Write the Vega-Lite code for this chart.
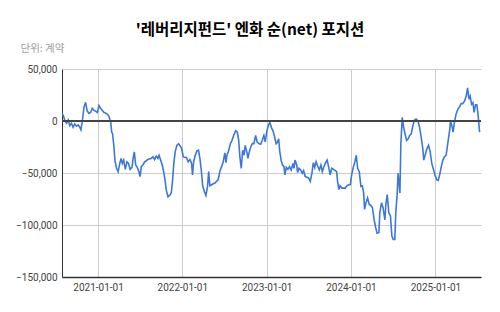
{
  "$schema": "https://vega.github.io/schema/vega-lite/v6.json",
  "width": 419,
  "height": 208,
  "autosize": {"type": "none"},
  "padding": {"left": 62, "top": 69, "right": 19, "bottom": 35},
  "background": "#ffffff",
  "title": {
    "text": "'레버리지펀드' 엔화 순(net) 포지션",
    "font": "Noto Sans CJK KR",
    "fontSize": 15.5,
    "fontWeight": "bold",
    "color": "#000000",
    "anchor": "middle",
    "frame": "group",
    "dx": -21.5,
    "baseline": "alphabetic",
    "offset": -7
  },
  "config": {
    "view": {"stroke": null},
    "axis": {
      "labelFont": "Roboto",
      "labelFontSize": 10,
      "labelColor": "#444444",
      "gridColor": "#cccccc",
      "gridWidth": 1,
      "tickSize": 0,
      "domainColor": "#333333"
    }
  },
  "data": {
    "values": [
      {"d": "2020-07-29", "v": 7300}, {"d": "2020-08-04", "v": 5000}, {"d": "2020-08-11", "v": 0}, {"d": "2020-08-18", "v": -2200},
      {"d": "2020-08-25", "v": 1000}, {"d": "2020-09-01", "v": -4400}, {"d": "2020-09-08", "v": -2200}, {"d": "2020-09-15", "v": -6000},
      {"d": "2020-09-22", "v": -2800}, {"d": "2020-09-30", "v": -5000}, {"d": "2020-10-07", "v": -3800}, {"d": "2020-10-14", "v": -6000},
      {"d": "2020-10-19", "v": -8500}, {"d": "2020-10-25", "v": 0}, {"d": "2020-11-01", "v": 13000}, {"d": "2020-11-08", "v": 18000},
      {"d": "2020-11-15", "v": 9800}, {"d": "2020-11-23", "v": 7300}, {"d": "2020-11-30", "v": 8200}, {"d": "2020-12-07", "v": 12300},
      {"d": "2020-12-14", "v": 10400}, {"d": "2020-12-22", "v": 9200}, {"d": "2020-12-29", "v": 8200}, {"d": "2021-01-05", "v": 14900},
      {"d": "2021-01-12", "v": 12300}, {"d": "2021-01-19", "v": 10400}, {"d": "2021-01-27", "v": 8200}, {"d": "2021-02-03", "v": 7600},
      {"d": "2021-02-10", "v": 6600}, {"d": "2021-02-17", "v": 4700}, {"d": "2021-02-25", "v": -1300}, {"d": "2021-03-01", "v": -10700},
      {"d": "2021-03-05", "v": -12300}, {"d": "2021-03-11", "v": -25000}, {"d": "2021-03-15", "v": -37600}, {"d": "2021-03-22", "v": -45500},
      {"d": "2021-03-29", "v": -48700}, {"d": "2021-04-05", "v": -40800}, {"d": "2021-04-11", "v": -36000}, {"d": "2021-04-16", "v": -40800},
      {"d": "2021-04-22", "v": -37600}, {"d": "2021-04-29", "v": -46500}, {"d": "2021-05-06", "v": -39200}, {"d": "2021-05-13", "v": -40800},
      {"d": "2021-05-20", "v": -46500}, {"d": "2021-05-28", "v": -44600}, {"d": "2021-06-02", "v": -36000}, {"d": "2021-06-07", "v": -29700},
      {"d": "2021-06-13", "v": -42300}, {"d": "2021-06-20", "v": -44600}, {"d": "2021-06-27", "v": -48700}, {"d": "2021-07-02", "v": -53400},
      {"d": "2021-07-07", "v": -43900}, {"d": "2021-07-14", "v": -42300}, {"d": "2021-07-22", "v": -39200}, {"d": "2021-07-29", "v": -38200},
      {"d": "2021-08-05", "v": -37000}, {"d": "2021-08-12", "v": -36300}, {"d": "2021-08-19", "v": -36000}, {"d": "2021-08-27", "v": -34400},
      {"d": "2021-09-03", "v": -37000}, {"d": "2021-09-10", "v": -33800}, {"d": "2021-09-17", "v": -36000}, {"d": "2021-09-22", "v": -32900},
      {"d": "2021-09-29", "v": -37600}, {"d": "2021-10-06", "v": -42300}, {"d": "2021-10-12", "v": -48700}, {"d": "2021-10-18", "v": -56600},
      {"d": "2021-10-23", "v": -66000}, {"d": "2021-10-31", "v": -73000}, {"d": "2021-11-07", "v": -71700}, {"d": "2021-11-14", "v": -69200},
      {"d": "2021-11-20", "v": -56600}, {"d": "2021-11-25", "v": -40800}, {"d": "2021-12-01", "v": -29700}, {"d": "2021-12-08", "v": -23400},
      {"d": "2021-12-16", "v": -21800}, {"d": "2021-12-21", "v": -23400}, {"d": "2021-12-29", "v": -26500}, {"d": "2022-01-05", "v": -34400},
      {"d": "2022-01-12", "v": -35100}, {"d": "2022-01-19", "v": -35100}, {"d": "2022-01-26", "v": -39200}, {"d": "2022-02-03", "v": -37000},
      {"d": "2022-02-10", "v": -40800}, {"d": "2022-02-14", "v": -51800}, {"d": "2022-02-19", "v": -39200}, {"d": "2022-02-26", "v": -32900},
      {"d": "2022-03-05", "v": -28800}, {"d": "2022-03-12", "v": -28100}, {"d": "2022-03-18", "v": -36000}, {"d": "2022-03-24", "v": -47100},
      {"d": "2022-03-30", "v": -62300}, {"d": "2022-04-06", "v": -67600}, {"d": "2022-04-13", "v": -71700}, {"d": "2022-04-20", "v": -62900},
      {"d": "2022-04-25", "v": -48700}, {"d": "2022-04-30", "v": -62300}, {"d": "2022-05-08", "v": -61300}, {"d": "2022-05-15", "v": -60400},
      {"d": "2022-05-22", "v": -59700}, {"d": "2022-05-29", "v": -58100}, {"d": "2022-06-05", "v": -56600}, {"d": "2022-06-13", "v": -47700},
      {"d": "2022-06-20", "v": -43900}, {"d": "2022-06-27", "v": -39200}, {"d": "2022-07-04", "v": -30700}, {"d": "2022-07-09", "v": -40100},
      {"d": "2022-07-13", "v": -32900}, {"d": "2022-07-21", "v": -28100}, {"d": "2022-07-28", "v": -21800}, {"d": "2022-08-04", "v": -18600},
      {"d": "2022-08-11", "v": -13900}, {"d": "2022-08-20", "v": -9200}, {"d": "2022-08-27", "v": -10700}, {"d": "2022-09-02", "v": -18600},
      {"d": "2022-09-07", "v": -34400}, {"d": "2022-09-13", "v": -45500}, {"d": "2022-09-19", "v": -28100}, {"d": "2022-09-25", "v": -32900},
      {"d": "2022-09-30", "v": -23400}, {"d": "2022-10-07", "v": -29700}, {"d": "2022-10-12", "v": -36000}, {"d": "2022-10-18", "v": -29700},
      {"d": "2022-10-24", "v": -25000}, {"d": "2022-10-31", "v": -21800}, {"d": "2022-11-07", "v": -21800}, {"d": "2022-11-14", "v": -13900},
      {"d": "2022-11-21", "v": -20200}, {"d": "2022-11-28", "v": -21800}, {"d": "2022-12-06", "v": -22400}, {"d": "2022-12-13", "v": -18600},
      {"d": "2022-12-20", "v": -13900}, {"d": "2022-12-26", "v": -20200}, {"d": "2023-01-01", "v": -10700}, {"d": "2023-01-08", "v": -4400},
      {"d": "2023-01-15", "v": -1300}, {"d": "2023-01-21", "v": -6000}, {"d": "2023-01-28", "v": -9200}, {"d": "2023-02-04", "v": -14900},
      {"d": "2023-02-11", "v": -21800}, {"d": "2023-02-17", "v": -20200}, {"d": "2023-02-22", "v": -17100}, {"d": "2023-02-27", "v": -29700},
      {"d": "2023-03-05", "v": -38200}, {"d": "2023-03-11", "v": -42300}, {"d": "2023-03-17", "v": -43900}, {"d": "2023-03-21", "v": -51800},
      {"d": "2023-03-27", "v": -44600}, {"d": "2023-04-03", "v": -46500}, {"d": "2023-04-10", "v": -43900}, {"d": "2023-04-17", "v": -47100},
      {"d": "2023-04-25", "v": -40800}, {"d": "2023-04-29", "v": -45500}, {"d": "2023-05-04", "v": -37600}, {"d": "2023-05-11", "v": -42300},
      {"d": "2023-05-15", "v": -49600}, {"d": "2023-05-21", "v": -45500}, {"d": "2023-05-28", "v": -47100}, {"d": "2023-06-04", "v": -50200},
      {"d": "2023-06-10", "v": -47700}, {"d": "2023-06-17", "v": -53400}, {"d": "2023-06-24", "v": -54000}, {"d": "2023-07-02", "v": -55000},
      {"d": "2023-07-09", "v": -58100}, {"d": "2023-07-16", "v": -50200}, {"d": "2023-07-22", "v": -40100}, {"d": "2023-07-28", "v": -44600},
      {"d": "2023-08-03", "v": -39200}, {"d": "2023-08-10", "v": -43300}, {"d": "2023-08-17", "v": -47100}, {"d": "2023-08-24", "v": -42300},
      {"d": "2023-08-30", "v": -48700}, {"d": "2023-09-06", "v": -43900}, {"d": "2023-09-13", "v": -40100}, {"d": "2023-09-20", "v": -37600},
      {"d": "2023-09-26", "v": -43900}, {"d": "2023-10-03", "v": -51800}, {"d": "2023-10-10", "v": -45500}, {"d": "2023-10-18", "v": -46500},
      {"d": "2023-10-25", "v": -47700}, {"d": "2023-10-31", "v": -48700}, {"d": "2023-11-04", "v": -58100}, {"d": "2023-11-10", "v": -66000},
      {"d": "2023-11-15", "v": -62300}, {"d": "2023-11-23", "v": -64500}, {"d": "2023-11-30", "v": -64500}, {"d": "2023-12-07", "v": -64500},
      {"d": "2023-12-14", "v": -62300}, {"d": "2023-12-22", "v": -61300}, {"d": "2023-12-29", "v": -61300}, {"d": "2024-01-04", "v": -51800},
      {"d": "2024-01-11", "v": -44600}, {"d": "2024-01-18", "v": -39200}, {"d": "2024-01-24", "v": -32900}, {"d": "2024-01-30", "v": -45500},
      {"d": "2024-02-06", "v": -48700}, {"d": "2024-02-13", "v": -62900}, {"d": "2024-02-19", "v": -62300}, {"d": "2024-02-25", "v": -69200},
      {"d": "2024-02-29", "v": -85000}, {"d": "2024-03-06", "v": -78700}, {"d": "2024-03-13", "v": -73900}, {"d": "2024-03-20", "v": -80300},
      {"d": "2024-03-27", "v": -81200}, {"d": "2024-04-03", "v": -83400}, {"d": "2024-04-10", "v": -94500}, {"d": "2024-04-17", "v": -102400},
      {"d": "2024-04-23", "v": -107800}, {"d": "2024-05-01", "v": -107100}, {"d": "2024-05-05", "v": -88200}, {"d": "2024-05-12", "v": -78700},
      {"d": "2024-05-19", "v": -83400}, {"d": "2024-05-27", "v": -95100}, {"d": "2024-05-31", "v": -80300}, {"d": "2024-06-06", "v": -70800},
      {"d": "2024-06-13", "v": -88200}, {"d": "2024-06-20", "v": -91300}, {"d": "2024-06-26", "v": -110300}, {"d": "2024-07-02", "v": -114000},
      {"d": "2024-07-09", "v": -114000}, {"d": "2024-07-13", "v": -88200}, {"d": "2024-07-19", "v": -70800}, {"d": "2024-07-23", "v": -50200},
      {"d": "2024-07-31", "v": -69200}, {"d": "2024-08-04", "v": -21800}, {"d": "2024-08-10", "v": 3500}, {"d": "2024-08-16", "v": -6000},
      {"d": "2024-08-22", "v": -12300}, {"d": "2024-08-29", "v": -18600}, {"d": "2024-09-05", "v": -17100}, {"d": "2024-09-11", "v": -13900},
      {"d": "2024-09-18", "v": -12300}, {"d": "2024-09-25", "v": -4400}, {"d": "2024-10-02", "v": 900}, {"d": "2024-10-09", "v": 1900},
      {"d": "2024-10-17", "v": 0}, {"d": "2024-10-24", "v": -6000}, {"d": "2024-10-31", "v": -15500}, {"d": "2024-11-07", "v": -26500},
      {"d": "2024-11-11", "v": -37600}, {"d": "2024-11-17", "v": -32900}, {"d": "2024-11-25", "v": -26500}, {"d": "2024-12-02", "v": -23400},
      {"d": "2024-12-09", "v": -29700}, {"d": "2024-12-16", "v": -40800}, {"d": "2024-12-24", "v": -47100}, {"d": "2024-12-31", "v": -52800},
      {"d": "2025-01-07", "v": -56600}, {"d": "2025-01-13", "v": -57200}, {"d": "2025-01-19", "v": -51800}, {"d": "2025-01-26", "v": -43900},
      {"d": "2025-02-02", "v": -37600}, {"d": "2025-02-09", "v": -34400}, {"d": "2025-02-16", "v": -32900}, {"d": "2025-02-23", "v": -21800},
      {"d": "2025-03-03", "v": -9200}, {"d": "2025-03-07", "v": -300}, {"d": "2025-03-13", "v": -4400}, {"d": "2025-03-18", "v": -10700},
      {"d": "2025-03-24", "v": -1300}, {"d": "2025-03-31", "v": 6600}, {"d": "2025-04-08", "v": 11400}, {"d": "2025-04-15", "v": 13600},
      {"d": "2025-04-22", "v": 16700}, {"d": "2025-04-29", "v": 16700}, {"d": "2025-05-07", "v": 19300}, {"d": "2025-05-14", "v": 24000},
      {"d": "2025-05-20", "v": 31900}, {"d": "2025-05-26", "v": 20900}, {"d": "2025-05-31", "v": 24000}, {"d": "2025-06-06", "v": 16100},
      {"d": "2025-06-12", "v": 17700}, {"d": "2025-06-17", "v": 8200}, {"d": "2025-06-23", "v": 15500}, {"d": "2025-06-29", "v": 15500},
      {"d": "2025-07-04", "v": 6600}, {"d": "2025-07-11", "v": -10700}
    ]
  },
  "layer": [
    {
      "mark": {"type": "line", "color": "#3c78d8", "strokeWidth": 1.6, "clip": true},
      "encoding": {
        "x": {
          "field": "d",
          "type": "temporal",
          "scale": {
            "type": "utc",
            "domain": [{"year": 2020, "month": 7, "date": 29, "utc": true}, {"year": 2025, "month": 7, "date": 17, "utc": true}],
            "nice": false
          },
          "axis": {
            "title": null,
            "values": [
              {"year": 2021, "month": 1, "date": 1, "utc": true},
              {"year": 2022, "month": 1, "date": 1, "utc": true},
              {"year": 2023, "month": 1, "date": 1, "utc": true},
              {"year": 2024, "month": 1, "date": 1, "utc": true},
              {"year": 2025, "month": 1, "date": 1, "utc": true}
            ],
            "format": "%Y-%m-%d",
            "labelPadding": 5,
            "domainWidth": 1.5,
            "labelFlush": false
          }
        },
        "y": {
          "field": "v",
          "type": "quantitative",
          "scale": {"domain": [-150000, 50000], "nice": false},
          "axis": {
            "values": [-150000, -100000, -50000, 0, 50000],
            "format": ",.0f",
            "labelPadding": 5,
            "domainWidth": 1,
            "title": "단위: 계약",
            "titleAngle": 0,
            "titleAlign": "left",
            "titleBaseline": "alphabetic",
            "titleX": -42,
            "titleY": -18,
            "titleFont": "Noto Sans CJK KR",
            "titleFontSize": 10.5,
            "titleFontWeight": "normal",
            "titleColor": "#9e9e9e"
          }
        }
      }
    },
    {
      "mark": {"type": "rule", "color": "#444444", "strokeWidth": 1},
      "encoding": {"y": {"datum": 0}}
    }
  ]
}
